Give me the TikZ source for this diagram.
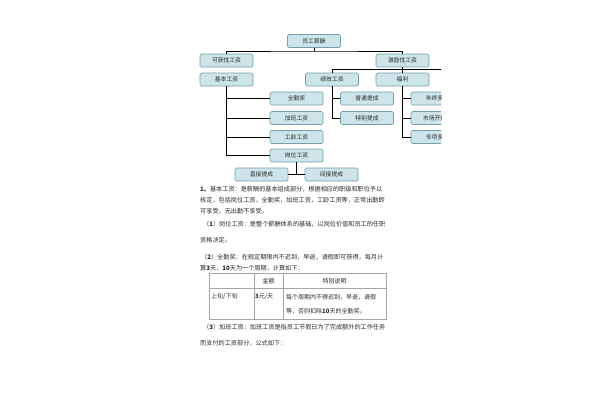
\documentclass[tikz,border=0pt]{standalone}
\usepackage{fontspec}
\setmainfont{Noto Sans CJK SC}
\begin{document}
\begin{tikzpicture}[x=1pt,y=-1pt,
  box/.style={draw=boxline, fill=boxfill, rounded corners=1.5pt, line width=0.7pt,
    minimum width=53pt, minimum height=13pt, inner sep=0pt,
    font=\fontsize{5.8}{6}\selectfont, text=txtgray},
  conn/.style={line width=0.8pt, draw=black},
  para/.style={anchor=west, inner sep=0pt, font=\fontsize{6.15}{7}\selectfont, text=txtgray},
  cell/.style={inner sep=0pt, font=\fontsize{6}{7}\selectfont, text=txtgray},
  tline/.style={draw=gray!70, line width=0.5pt}]
\definecolor{boxfill}{HTML}{CDE5EA}
\definecolor{boxline}{HTML}{749FA9}
\definecolor{txtgray}{HTML}{2A2A2A}
\useasboundingbox (0,0) rectangle (600,400);
\fill[white] (0,0) rectangle (600,400);
\begin{scope}
\clip (0,0) rectangle (441,400);
% boxes
\node[box] (top) at (314,41) {员工薪酬};
\node[box] (kehuo) at (226.5,60.5) {可获性工资};
\node[box] (jili) at (402.5,60.5) {激励性工资};
\node[box] (jiben) at (226.5,79.5) {基本工资};
\node[box] (jixiao) at (332,79.5) {绩效工资};
\node[box] (fuli) at (402.5,79.5) {福利};
\node[box] (quanqin) at (296.5,98.5) {全勤奖};
\node[box] (jiaban) at (296.5,118) {加班工资};
\node[box] (gongling) at (296.5,137) {工龄工资};
\node[box] (gangwei) at (296.5,155.5) {岗位工资};
\node[box] (zhijie) at (261.5,174.5) {直接提成};
\node[box] (jianjie) at (331.5,174.5) {间接提成};
\node[box] (putong) at (367,98.5) {普通提成};
\node[box] (tebie) at (367,118) {特别提成};
\node[box] (nianzhong) at (437.5,98.5) {年终奖金};
\node[box] (shichang) at (437.5,118) {市场开拓奖};
\node[box] (zhuanxiang) at (437.5,137) {专项奖金};
% connectors
\coordinate (j1) at (314,51);
\draw[conn] (top.south) -- (j1);
\draw[conn] (kehuo.north) |- (j1) -| (jili.north);
\coordinate (jr) at (445,69);
\draw[conn] (jili.south) -- (fuli.north);
\draw[conn] (jixiao.north) |- (jr);
% basic salary branch
\coordinate (b1) at (226.5,155.5);
\draw[conn] (jiben.south) -- (b1) -- (gangwei.west);
\draw[conn] (jiben.south |- quanqin.west) -- (quanqin.west);
\draw[conn] (jiben.south |- jiaban.west) -- (jiaban.west);
\draw[conn] (jiben.south |- gongling.west) -- (gongling.west);
\coordinate (g1) at (296.5,174.5);
\draw[conn] (gangwei.south) -- (g1);
\draw[conn] (zhijie.east) -- (jianjie.west);
% performance branch
\coordinate (p1) at (332,118);
\draw[conn] (jixiao.south) -- (p1) -- (tebie.west);
\draw[conn] (jixiao.south |- putong.west) -- (putong.west);
% welfare branch
\coordinate (f1) at (402.5,137);
\draw[conn] (fuli.south) -- (f1) -- (zhuanxiang.west);
\draw[conn] (fuli.south |- nianzhong.west) -- (nianzhong.west);
\draw[conn] (fuli.south |- shichang.west) -- (shichang.west);
\end{scope}
% paragraphs
\node[para] (l1) at (200,189) {\textbf{1、}基本工资：是薪酬的基本组成部分，根据相应的职级和职位予以};
\node[para] (l2) at (200,200) {核定，包括岗位工资，全勤奖，加班工资，工龄工资等，正常出勤即};
\node[para] (l3) at (200,211) {可享受，无出勤不享受。};
\node[para] (l4) at (203,224) {（\textbf{1}）岗位工资：是整个薪酬体系的基础，以岗位价值和员工的任职};
\node[para] (l5) at (200,240) {资格决定。};
\node[para] (l6) at (201,257) {（\textbf{2}）全勤奖：在规定期限内不迟到，早退，请假即可获得，每月计};
\node[para] (l7) at (200,268) {算\textbf{3}天，\textbf{10}天为一个周期，计算如下：};
% table
\draw[tline] (209,273.5) rectangle (386,319.5);
\draw[tline] (209,288) -- (386,288);
\draw[tline] (254,273.5) -- (254,319.5);
\draw[tline] (283,273.5) -- (283,319.5);
\node[cell] (h2) at (268.5,281) {金额};
\node[cell] (h3) at (334.5,281) {特别说明};
\node[cell, anchor=west] (c1) at (211,297) {上旬/下旬};
\node[cell, anchor=west] (c2) at (255,297) {\textbf{3}元/天};
\node[cell, anchor=west] (c3) at (286,297) {每个周期内不得迟到，早退，请假};
\node[cell, anchor=west] (c4) at (286,311) {等，否则扣除\textbf{10}天的全勤奖。};
\node[para] (l8) at (203,327) {（\textbf{3}）加班工资：加班工资是指员工节假日为了完成额外的工作任务};
\node[para] (l9) at (200,343) {而支付的工资部分，公式如下：};
\end{tikzpicture}
\end{document}
